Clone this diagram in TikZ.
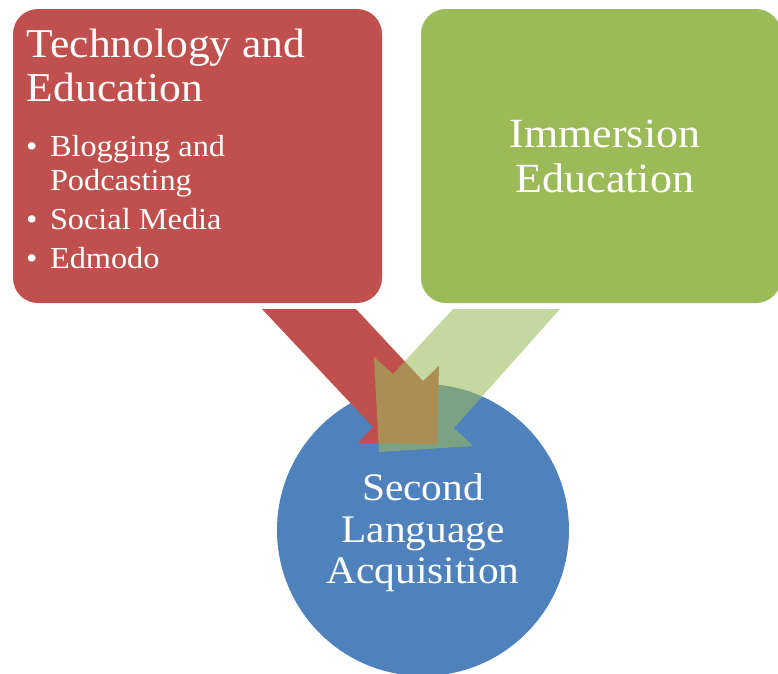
\documentclass[tikz,border=0pt]{standalone}
\usepackage{fontspec}
\setmainfont[FakeStretch=1.06]{Liberation Serif}
\definecolor{boxred}{HTML}{C0504D}
\definecolor{boxgreen}{HTML}{9BBB59}
\definecolor{circblue}{HTML}{4F81BD}
\tikzset{
  txt/.style={text=white, inner sep=0pt, outer sep=0pt},
  titletxt/.style={txt, font=\fontsize{41}{44}\selectfont},
  bultxt/.style={txt, font=\fontsize{30.5}{34}\selectfont},
  bigtxt/.style={txt, font=\fontsize{41.5}{44}\selectfont},
  circtxt/.style={txt, font=\fontsize{39}{42}\selectfont},
  redarrow/.style={fill=boxred},
  greenarrow/.style={fill=boxgreen, fill opacity=0.58},
}
\begin{document}
\begin{tikzpicture}[x=1pt,y=-1pt]
\useasboundingbox (0,0) rectangle (778,673);
\clip (0,0) rectangle (778,673);
% boxes
\fill[boxred, rounded corners=25pt] (13,9) rectangle (382,303);
\fill[boxgreen, rounded corners=25pt] (421,9) rectangle (781,303);
% circle
\fill[circblue] (423,530) circle[radius=146pt];
% arrows
\fill[redarrow] (262,309) -- (356,309) -- (423,381) -- (439,366) -- (437,444) -- (358,443) -- (373,427) -- cycle;
\fill[greenarrow] (453,309) -- (560,309) -- (454,428) -- (473,446) -- (379,452) -- (374,357) -- (393,374) -- cycle;
% red box text
\node[titletxt, anchor=base west] (t1) at (27,57) {Technology and};
\node[titletxt, anchor=base west] (t2) at (27,101) {Education};
\node[bultxt, anchor=base west] (b1d) at (26,156) {\textbullet};
\node[bultxt, anchor=base west] (b1) at (50,156) {Blogging and};
\node[bultxt, anchor=base west] (b1b) at (50,190) {Podcasting};
\node[bultxt, anchor=base west] (b2d) at (26,229) {\textbullet};
\node[bultxt, anchor=base west] (b2) at (50,229) {Social Media};
\node[bultxt, anchor=base west] (b3d) at (26,268) {\textbullet};
\node[bultxt, anchor=base west] (b3) at (50,268) {Edmodo};
% green box text
\node[bigtxt, anchor=base] (g1) at (605,147) {Immersion};
\node[bigtxt, anchor=base] (g2) at (605,192) {Education};
% circle text
\node[circtxt, anchor=base] (c1) at (423,500) {Second};
\node[circtxt, anchor=base] (c2) at (423,542) {Language};
\node[circtxt, anchor=base] (c3) at (423,583) {Acquisition};
\end{tikzpicture}
\end{document}
